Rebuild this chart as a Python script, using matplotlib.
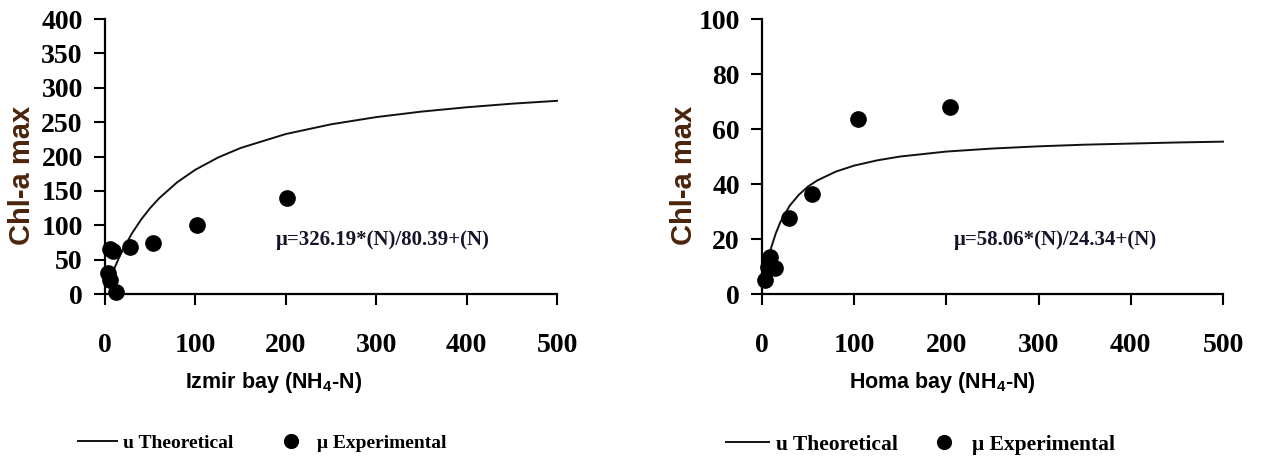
import matplotlib
matplotlib.use("Agg")
import matplotlib.pyplot as plt

plt.rcParams["mathtext.fontset"] = "custom"
plt.rcParams["mathtext.rm"] = "Liberation Sans:bold"
plt.rcParams["mathtext.it"] = "Liberation Sans:bold"
plt.rcParams["mathtext.bf"] = "Liberation Sans:bold"

# ---- data ----
# Izmir bay
izmir_n_exp = [5, 9, 3, 5, 12, 28, 53, 102, 201]
izmir_chl_exp = [66, 62, 30, 20, 3, 69, 74, 100, 139]
izmir_n_fit = [5, 8, 10, 15, 20, 30, 40, 50, 60, 80, 100, 125, 150, 200,
               250, 300, 350, 400, 450, 500]
izmir_chl_fit = [19.1, 29.5, 36.1, 51.3, 65.0, 88.6, 108.4, 125.1, 139.4, 162.7,
                 180.8, 198.5, 212.4, 232.7, 246.8, 257.3, 265.3, 271.6, 276.8, 281.0]

# Homa bay
homa_n_exp = [3, 6, 9, 14, 29, 54, 104, 204]
homa_chl_exp = [5, 10, 13.5, 9.5, 27.5, 36.5, 63.5, 68]
homa_n_fit = [2, 3, 5, 10, 15, 20, 30, 40, 50, 60, 80, 100, 125, 150, 200,
              250, 300, 350, 400, 450, 500]
homa_chl_fit = [4.4, 6.4, 9.9, 16.9, 22.1, 26.2, 32.1, 36.1, 39.1, 41.3, 44.5,
                46.7, 48.6, 50.0, 51.8, 52.9, 53.7, 54.3, 54.7, 55.1, 55.4]

x_ticks = [0, 100, 200, 300, 400, 500]
izmir_y_ticks = [0, 50, 100, 150, 200, 250, 300, 350, 400]
homa_y_ticks = [0, 20, 40, 60, 80, 100]

SERIF = "Liberation Serif"
SANS = "Liberation Sans"
LABEL_BROWN = "#4a250c"

W, H = 1268, 461
fig = plt.figure(figsize=(W / 100, H / 100), dpi=100)

panels = [
    dict(rect=[105 / W, 1 - 294 / H, 452 / W, 275 / H],
         n_exp=izmir_n_exp, chl_exp=izmir_chl_exp,
         n_fit=izmir_n_fit, chl_fit=izmir_chl_fit,
         yticks=izmir_y_ticks, ymax=400,
         eq="\u03bc=326.19*(N)/80.39+(N)", eq_xy=(189, 79),
         xlabel="Izmir bay (NH$_4$-N)", xlab_x=274, ylab_x=22,
         leg_x=78, leg_y=443, leg_fs=14, colsp=2.0),
    dict(rect=[762 / W, 1 - 294 / H, 461 / W, 275 / H],
         n_exp=homa_n_exp, chl_exp=homa_chl_exp,
         n_fit=homa_n_fit, chl_fit=homa_chl_fit,
         yticks=homa_y_ticks, ymax=100,
         eq="\u03bc=58.06*(N)/24.34+(N)", eq_xy=(208, 19.5),
         xlabel="Homa bay (NH$_4$-N)", xlab_x=942, ylab_x=684,
         leg_x=726, leg_y=445, leg_fs=15.5, colsp=1.15),
]

for p in panels:
    ax = fig.add_axes(p["rect"])
    line, = ax.plot(p["n_fit"], p["chl_fit"], color="#111111", lw=1.4,
                    clip_on=False)
    pts, = ax.plot(p["n_exp"], p["chl_exp"], "o", color="black", ms=11,
                   ls="none", clip_on=False, zorder=3)

    ax.set_xlim(0, 500)
    ax.set_ylim(0, p["ymax"])
    ax.set_xticks(x_ticks)
    ax.set_yticks(p["yticks"])
    for s in ["top", "right"]:
        ax.spines[s].set_visible(False)
    for s in ["left", "bottom"]:
        ax.spines[s].set_linewidth(1.6)
    ax.tick_params(direction="out", length=8, width=1.5, colors="black")
    ax.tick_params(axis="x", pad=20)
    ax.tick_params(axis="y", pad=8)
    for lab in ax.get_xticklabels():
        lab.set_fontfamily(SERIF)
        lab.set_fontweight("bold")
        lab.set_fontsize(20)
    for lab in ax.get_yticklabels():
        lab.set_fontfamily(SERIF)
        lab.set_fontweight("bold")
        lab.set_fontsize(20)

    ax.text(p["eq_xy"][0], p["eq_xy"][1], p["eq"], family=SERIF,
            weight="bold", fontsize=15, color="#15152a", va="center",
            ha="left")

    fig.text(p["ylab_x"] / W, 1 - 175 / H, "Chl-a max", rotation=90,
             family=SANS, weight="bold", fontsize=21, color=LABEL_BROWN,
             ha="center", va="center")
    fig.text(p["xlab_x"] / W, 1 - 382 / H, p["xlabel"], family=SANS,
             weight="bold", fontsize=15.5, color="black",
             ha="center", va="center")

    ax.legend([line, pts], ["u Theoretical", "\u03bc Experimental"],
              loc="center left",
              bbox_to_anchor=(p["leg_x"] / W, 1 - p["leg_y"] / H),
              bbox_transform=fig.transFigure, ncol=2, frameon=False,
              borderpad=0, borderaxespad=0, handlelength=2.0,
              handletextpad=0.3, columnspacing=p["colsp"], markerscale=0.9,
              prop=dict(family=SERIF, weight="bold", size=p["leg_fs"]))

fig.savefig("out.png", dpi=100)
